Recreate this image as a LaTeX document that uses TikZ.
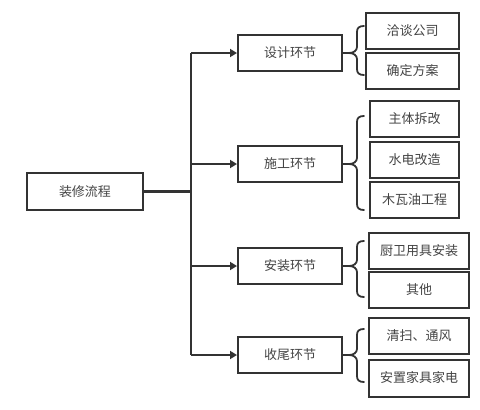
\documentclass[tikz,border=0pt]{standalone}
\usepackage{fontspec}
\newfontfamily\cjk{Noto Sans CJK SC}
\usetikzlibrary{arrows.meta}
\definecolor{ln}{HTML}{333333}
\definecolor{tx}{HTML}{444444}
\tikzset{
  box/.style={draw=ln, line width=2pt, rectangle, inner sep=0pt, minimum height=36pt, font=\cjk\fontsize{13}{15}\selectfont, text=tx},
  conn/.style={draw=ln, line width=2.2pt},
  thick conn/.style={draw=ln, line width=2.6pt},
  arr/.style={conn, -{Triangle[length=7pt,width=8pt]}},
  curly/.style={draw=ln, line width=1.8pt, line cap=round}
}
\newcommand\mybrace[3]{% #1 top y, #2 middle y, #3 bottom y
  \draw[curly] (364,#1) .. controls (359,#1) and (357,{#1+2}) .. (357,{#1+6})
    -- (357,{#2-6}) .. controls (357,{#2-2}) and (353,#2) .. (349,#2)
    .. controls (353,#2) and (357,{#2+2}) .. (357,{#2+6})
    -- (357,{#3-6}) .. controls (357,{#3-2}) and (359,#3) .. (364,#3);}
\begin{document}
\begin{tikzpicture}[x=1pt,y=-1pt]
\useasboundingbox (0,0) rectangle (480,410);
\fill[white] (0,0) rectangle (480,410);
% root
\node[box, minimum width=116pt, minimum height=37pt] (root) at (85,191.5) {装修流程};
% level 2
\node[box, minimum width=104pt] (s1) at (290,53) {设计环节};
\node[box, minimum width=104pt] (s2) at (290,164) {施工环节};
\node[box, minimum width=104pt] (s3) at (290,266) {安装环节};
\node[box, minimum width=104pt] (s4) at (290,355) {收尾环节};
% leaves
\node[box, minimum width=93pt] (a1) at (412.5,31) {洽谈公司};
\node[box, minimum width=93pt] (a2) at (412.5,71) {确定方案};
\node[box, minimum width=89pt] (b1) at (414.5,119) {主体拆改};
\node[box, minimum width=89pt] (b2) at (414.5,160) {水电改造};
\node[box, minimum width=89pt] (b3) at (414.5,200) {木瓦油工程};
\node[box, minimum width=100pt] (c1) at (419,251) {厨卫用具安装};
\node[box, minimum width=100pt] (c2) at (419,290) {其他};
\node[box, minimum width=100pt] (d1) at (419,336) {清扫、通风};
\node[box, minimum width=100pt, minimum height=37pt] (d2) at (419,378) {安置家具家电};
% trunk
\coordinate (j0) at (191,191.5);
\coordinate (j1) at (191,53);
\coordinate (j2) at (191,164);
\coordinate (j3) at (191,266);
\coordinate (j4) at (191,355);
\draw[thick conn] (root.east) -- (j0);
\draw[conn] (j1) -- (j4);
\draw[arr] (j1) -- (s1.west);
\draw[arr] (j2) -- (s2.west);
\draw[arr] (j3) -- (s3.west);
\draw[arr] (j4) -- (s4.west);
% stubs and braces
\coordinate (m1) at (349,53);
\coordinate (m2) at (349,164);
\coordinate (m3) at (349,266);
\coordinate (m4) at (349,355);
\draw[thick conn] (s1.east) -- (m1);
\draw[thick conn] (s2.east) -- (m2);
\draw[thick conn] (s3.east) -- (m3);
\draw[thick conn] (s4.east) -- (m4);
\mybrace{26}{53}{75}
\mybrace{116}{164}{210}
\mybrace{241}{266}{297}
\mybrace{329}{355}{382}
\end{tikzpicture}
\end{document}
